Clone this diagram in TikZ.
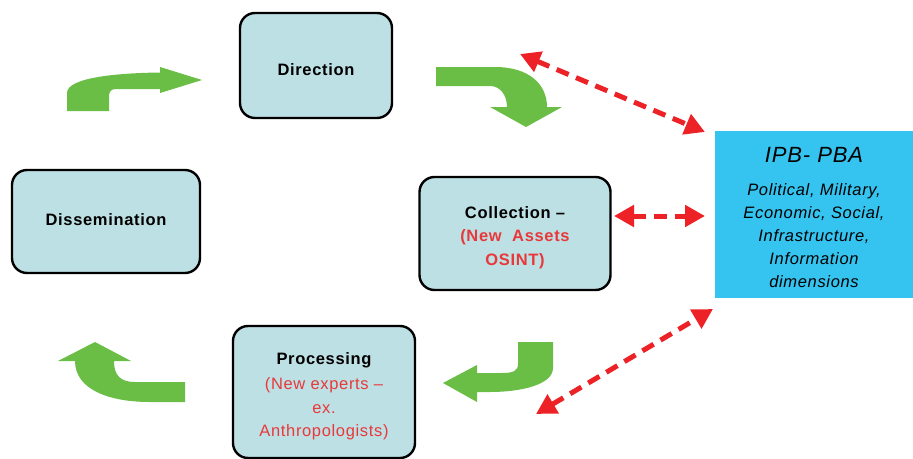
\documentclass[tikz,border=0pt]{standalone}
\usepackage{fontspec}
\setmainfont{Liberation Sans}[LetterSpace=4.0]
\usetikzlibrary{arrows.meta}
\definecolor{boxfill}{HTML}{BDE0E4}
\definecolor{ipbfill}{HTML}{35C3F0}
\definecolor{cyclegreen}{HTML}{6ABD45}
\definecolor{linkred}{HTML}{EC2227}
\definecolor{notered}{HTML}{E8383A}
\tikzset{
  stage/.style={draw=black, line width=2.4pt, fill=boxfill, rounded corners=15pt, inner sep=0pt},
  stagetext/.style={align=center, font=\fontsize{16.5}{23.5}\selectfont\bfseries, inner sep=0pt},
  turn/.style={fill=cyclegreen, draw=none},
  link/.style={draw=linkred, line width=5pt, dash pattern=on 13pt off 8pt,
    {Triangle[length=20pt,width=21pt]}-{Triangle[length=20pt,width=21pt]}},
}
\begin{document}
\begin{tikzpicture}[x=1pt,y=-1pt]
\useasboundingbox (0,0) rectangle (913,458);

% the intelligence cycle stages
\node[stage, minimum width=152pt, minimum height=105pt] (dir) at (316,65.5) {};
\node[stage, minimum width=188pt, minimum height=103pt] (dis) at (106,221.5) {};
\node[stage, minimum width=191pt, minimum height=113pt] (col) at (515,233.5) {};
\node[stage, minimum width=182pt, minimum height=132pt] (pro) at (324,392) {};

\node[stagetext] (dirtext) at ([yshift=-4pt]dir.center) {Direction};
\node[stagetext] (distext) at ([yshift=2pt]dis.center) {Dissemination};
\node[stagetext] (coltext) at ([yshift=-4pt]col.center)
  {Collection --\\\textcolor{notered}{(New\ \ Assets}\\\textcolor{notered}{OSINT)}};
\node[stagetext] (protext) at ([yshift=-4pt]pro.center)
  {Processing\\[2pt]{\mdseries\color{notered}(New experts --}\\{\mdseries\color{notered}ex.}\\{\mdseries\color{notered}Anthropologists)}};

% IPB-PBA panel
\node[fill=ipbfill, minimum width=198pt, minimum height=167pt, inner sep=0pt] (ipb) at (814,214.5) {};
\node[align=center, inner sep=0pt, font=\itshape\fontsize{16.5}{23}\selectfont] (ipbtext) at ([yshift=-3pt]ipb.center)
  {{\fontsize{22}{26}\selectfont IPB- PBA}\\[10pt]Political, Military,\\Economic, Social,\\Infrastructure,\\Information\\dimensions};

% green turning arrows between stages
\fill[turn] (67,111) -- (67,93) .. controls (67,77) and (120,73) .. (160,72.5)
  -- (160,67) -- (202,80) -- (160,93) -- (160,89) -- (116,89)
  .. controls (111,89) and (109,92) .. (109,96) -- (109,111) -- cycle;
\fill[turn] (436,67) -- (495,67) .. controls (530,67) and (547,85) .. (547,107)
  -- (562,107) -- (526,127) -- (490,107) -- (507,107)
  .. controls (507,95) and (500,86) .. (490,86) -- (436,86) -- cycle;
\fill[turn] (518,342) -- (553,342) -- (553,368) .. controls (553,385) and (520,392) .. (490,392)
  -- (477,392) -- (477,402) -- (443,383) -- (477,365) -- (477,373) -- (502,373)
  .. controls (513,373) and (518,371) .. (518,364) -- cycle;
\fill[turn] (185,382) -- (135,382) .. controls (120,382) and (114,375) .. (114,361)
  -- (131,361) -- (95,342) -- (58,361) -- (75,361)
  .. controls (75,390) and (110,402) .. (150,402) -- (185,402) -- cycle;

% red links to the IPB-PBA panel
\coordinate (dirlink) at (520,54);
\coordinate (ipbtop) at (705,132);
\coordinate (collink) at (614,216);
\coordinate (ipbmid) at (705,216);
\coordinate (prolink) at (536,414);
\coordinate (ipbbot) at (713,309);
\draw[link] (dirlink) -- (ipbtop);
\draw[link] (collink) -- (ipbmid);
\draw[link] (prolink) -- (ipbbot);
\end{tikzpicture}
\end{document}
